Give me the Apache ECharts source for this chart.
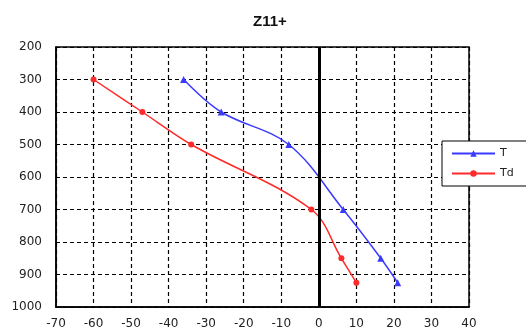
<!DOCTYPE html>
<html>
<head>
<meta charset="utf-8">
<script src="https://cdn.jsdelivr.net/npm/echarts@6/dist/echarts.min.js"></script>
<style>
  html, body { margin: 0; padding: 0; background: #fff; }
</style>
</head>
<body>
<div id="sounding" style="width: 526px; height: 336px"></div>
<script>
// pressure levels (hPa) and temperatures (°C)
const levels = [300, 400, 500, 700, 850, 925];
const tempT = [-36, -26, -8, 6.5, 16.5, 21];
const tempTd = [-60, -47, -34, -2, 6, 10];
const seriesNames = ["T", "Td"];
const chartTitle = "Z11+";

const pairs = (xs) => xs.map((v, i) => [v, levels[i]]);

let myChart = echarts.init(document.getElementById("sounding"));
let labelFont = {
  color: "#222",
  fontSize: 12,
  fontFamily: "DejaVu Sans",
  formatter: (v) => String(v),
};
let option = {
  backgroundColor: "#fff",
  animation: false,
  title: {
    text: chartTitle,
    left: 248,
    top: 9,
    textStyle: {
      color: "#111",
      fontSize: 15,
      fontWeight: "bold",
      fontFamily: "Liberation Sans",
    },
  },
  legend: {
    orient: "vertical",
    left: 442,
    top: 141,
    itemWidth: 43,
    itemHeight: 8,
    itemGap: 9,
    padding: [7, 40, 7, 9],
    backgroundColor: "#fff",
    borderColor: "#000",
    borderWidth: 1,
    textStyle: {
      color: "#222",
      fontSize: 11,
      fontFamily: "DejaVu Sans",
    },
    data: seriesNames,
  },
  grid: {
    left: 56,
    right: 57,
    top: 47,
    bottom: 29,
    show: true,
    borderColor: "#000",
    borderWidth: 1.5,
  },
  xAxis: {
    type: "value",
    min: -70,
    max: 40,
    interval: 10,
    axisLine: { show: true, onZero: false, lineStyle: { color: "#000", width: 1.5 } },
    axisTick: { show: false },
    axisLabel: Object.assign({ margin: 11 }, labelFont),
    splitLine: {
      lineStyle: { type: [4, 3], color: "#000", width: 1.2 },
    },
  },
  yAxis: {
    type: "value",
    inverse: true,
    min: 200,
    max: 1000,
    interval: 100,
    axisLine: { show: true, onZero: false, lineStyle: { color: "#000", width: 1.5 } },
    axisTick: { show: false },
    axisLabel: Object.assign({ margin: 14 }, labelFont),
    splitLine: {
      lineStyle: { type: [4, 3], color: "#000", width: 1.2 },
    },
  },
  series: [
    {
      name: seriesNames[0],
      type: "line",
      data: pairs(tempT),
      smooth: 0.35,
      symbol: "triangle",
      symbolSize: 7,
      color: "#3a3aff",
      lineStyle: { width: 1.5 },
      markLine: {
        silent: true,
        symbol: "none",
        label: { show: false },
        lineStyle: { color: "#000", width: 3, type: "solid" },
        data: [{ xAxis: 0 }],
      },
    },
    {
      name: seriesNames[1],
      type: "line",
      data: pairs(tempTd),
      smooth: 0.35,
      symbol: "circle",
      symbolSize: 6,
      color: "#ff2a2a",
      lineStyle: { width: 1.5 },
    },
  ],
};
myChart.setOption(option);
</script>
</body>
</html>
